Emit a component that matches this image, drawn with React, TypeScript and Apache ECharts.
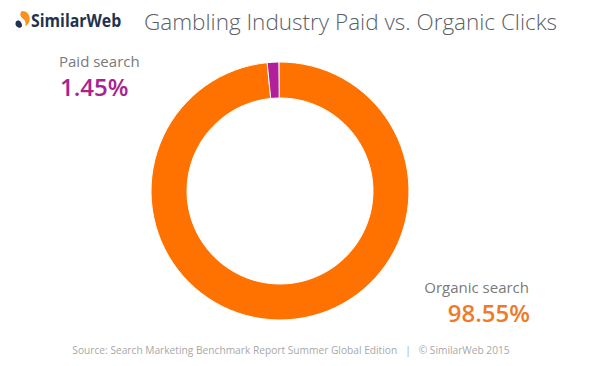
import React, { useEffect, useRef } from "react";
import * as echarts from "echarts";

const categories = ["Organic search", "Paid search"];
const values = [98.55, 1.45];
const colors = ["#ff7200", "#b0209a"];
const title = "Gambling Industry Paid vs. Organic Clicks";
const source = "Source: Search Marketing Benchmark Report Summer Global Edition   |   © SimilarWeb 2015";

echarts.graphic.registerShape(
  "swNavy",
  echarts.graphic.extendPath(
    "M5 16 C1.5 16 0 13.5 0.6 11 C1.3 8.6 4.3 8.6 5.6 10.6 C6.8 12.4 7.6 14.6 5 16 Z",
    {}
  )
);
echarts.graphic.registerShape(
  "swOrange",
  echarts.graphic.extendPath(
    "M7 0 C11 0 14 3 14 7.5 C14 10.8 12.3 13 9.8 14.2 C10.6 11.6 9.9 9 7.4 7.2 C4.6 5.2 4.2 1.2 7 0 Z",
    {}
  )
);

export default function App() {
  const ref = useRef<HTMLDivElement>(null);
  useEffect(() => {
    const chart = echarts.init(ref.current!, null, { renderer: "svg" });
    chart.setOption({
      animation: false,
      backgroundColor: "#ffffff",
      series: [
        {
          type: "pie",
          center: [280, 191],
          radius: [93, 129],
          startAngle: 90.5,
          clockwise: true,
          label: { show: false },
          labelLine: { show: false },
          silent: true,
          itemStyle: { borderColor: "#ffffff", borderWidth: 1 },
          data: categories.map((c, i) => ({
            name: c,
            value: values[i],
            itemStyle: { color: colors[i] },
          })),
        },
      ],
      graphic: [
        { type: "swOrange", x: 15, y: 11, scaleX: 1.05, scaleY: 1.05, style: { fill: "#f7931e" } },
        { type: "swNavy", x: 15, y: 11, scaleX: 1.05, scaleY: 1.05, style: { fill: "#1f3350" } },
        {
          type: "text",
          x: 31,
          y: 20,
          scaleX: 0.88,
          style: {
            text: "SimilarWeb",
            fill: "#1f3350",
            font: "bold 18px 'Open Sans'",
            textVerticalAlign: "middle",
          },
        },
        {
          type: "text",
          x: 144,
          y: 21,
          style: {
            text: title,
            fill: "#5a6068",
            font: "300 22.5px 'Open Sans'",
            textVerticalAlign: "middle",
          },
        },
        {
          type: "text",
          x: 59,
          y: 61,
          style: {
            text: categories[1],
            fill: "#7a7a7a",
            font: "15px 'Open Sans'",
            lineHeight: 15,
            textVerticalAlign: "middle",
          },
        },
        {
          type: "text",
          x: 60,
          y: 86,
          style: {
            text: values[1].toFixed(2) + "%",
            fill: "#a8238f",
            font: "600 24px 'Open Sans'",
            lineHeight: 22,
            textVerticalAlign: "middle",
          },
        },
        {
          type: "text",
          x: 529,
          y: 287,
          style: {
            text: categories[0],
            fill: "#7a7a7a",
            font: "15px 'Open Sans'",
            lineHeight: 15,
            textAlign: "right",
            textVerticalAlign: "middle",
          },
        },
        {
          type: "text",
          x: 530,
          y: 312,
          style: {
            text: values[0].toFixed(2) + "%",
            fill: "#f07a2a",
            font: "600 24px 'Open Sans'",
            lineHeight: 22,
            textAlign: "right",
            textVerticalAlign: "middle",
          },
        },
        {
          type: "text",
          x: 291,
          y: 350,
          style: {
            text: source,
            fill: "#a8a8a8",
            font: "10.2px 'Open Sans'",
            textAlign: "center",
            textVerticalAlign: "middle",
          },
        },
      ],
    });
    return () => chart.dispose();
  }, []);
  return (
    <div
      ref={ref}
      style={{ position: "fixed", left: 0, top: 0, width: 600, height: 366 }}
    />
  );
}
